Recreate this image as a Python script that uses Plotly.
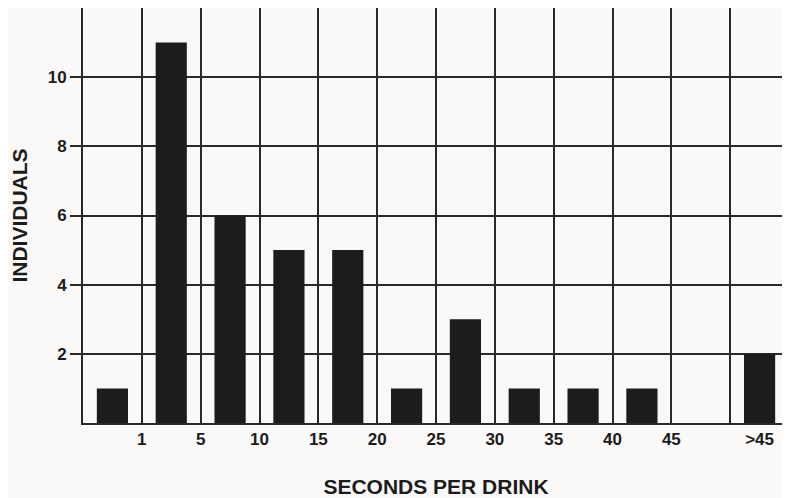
import numpy as np
import plotly.graph_objects as go

# Data
bins = ["0-1", "1-5", "5-10", "10-15", "15-20", "20-25", "25-30",
        "30-35", "35-40", "40-45", "45-50", ">45"]
individuals = [1, 11, 6, 5, 5, 1, 3, 1, 1, 1, 0, 2]
edge_labels = ["1", "5", "10", "15", "20", "25", "30", "35", "40", "45"]
last_label = ">45"
y_ticks = [2, 4, 6, 8, 10]

x_pos = np.arange(len(bins))
tick_vals = [i + 0.5 for i in range(len(edge_labels))] + [len(bins) - 1]
tick_text = edge_labels + [last_label]
boundaries = [i - 0.5 for i in range(len(bins) + 1)]

FONT = "Liberation Sans, Arial, Helvetica, sans-serif"
INK = "#1c1c1c"
GRID = "#2a2a2a"
BG = "#faf9f8"

fig = go.Figure()
fig.add_trace(go.Bar(
    x=x_pos, y=individuals, width=0.53,
    marker=dict(color=INK, line=dict(width=0)),
    customdata=bins, hovertemplate="%{customdata}: %{y}<extra></extra>",
))

# page body has an 8px default margin, so the figure is sized to fit inside it
fig.update_layout(
    width=782, height=490,
    margin=dict(l=75, r=1, t=0, b=75),
    paper_bgcolor=BG, plot_bgcolor=BG,
    showlegend=False,
    font=dict(family=FONT, color=INK),
)

fig.update_xaxes(
    automargin=False,
    range=[-0.5, len(bins) - 0.5],
    tickmode="array", tickvals=tick_vals, ticktext=tick_text,
    tickfont=dict(size=17, family=FONT, color=INK, weight="bold"),
    showgrid=False, ticks="", ticklen=0,
    minor=dict(tickmode="array", tickvals=boundaries, showgrid=True,
               gridcolor=GRID, gridwidth=2, ticks=""),
    showline=True, linecolor=GRID, linewidth=2, mirror=True,
    zeroline=False,
    title=dict(text="SECONDS PER DRINK",
               font=dict(size=21, family=FONT, color=INK, weight="bold"),
               standoff=32),
)

fig.update_yaxes(
    automargin=False,
    range=[0, 12],
    tickmode="array", tickvals=y_ticks,
    tickfont=dict(size=17, family=FONT, color=INK, weight="bold"),
    showgrid=True, gridcolor=GRID, gridwidth=2,
    ticks="outside", ticklen=11, tickwidth=2, tickcolor=GRID,
    showline=True, linecolor=GRID, linewidth=2, mirror=True,
    zeroline=False,
    title=dict(text="INDIVIDUALS",
               font=dict(size=21, family=FONT, color=INK, weight="bold"),
               standoff=20),
)

fig.write_html("out.html")
